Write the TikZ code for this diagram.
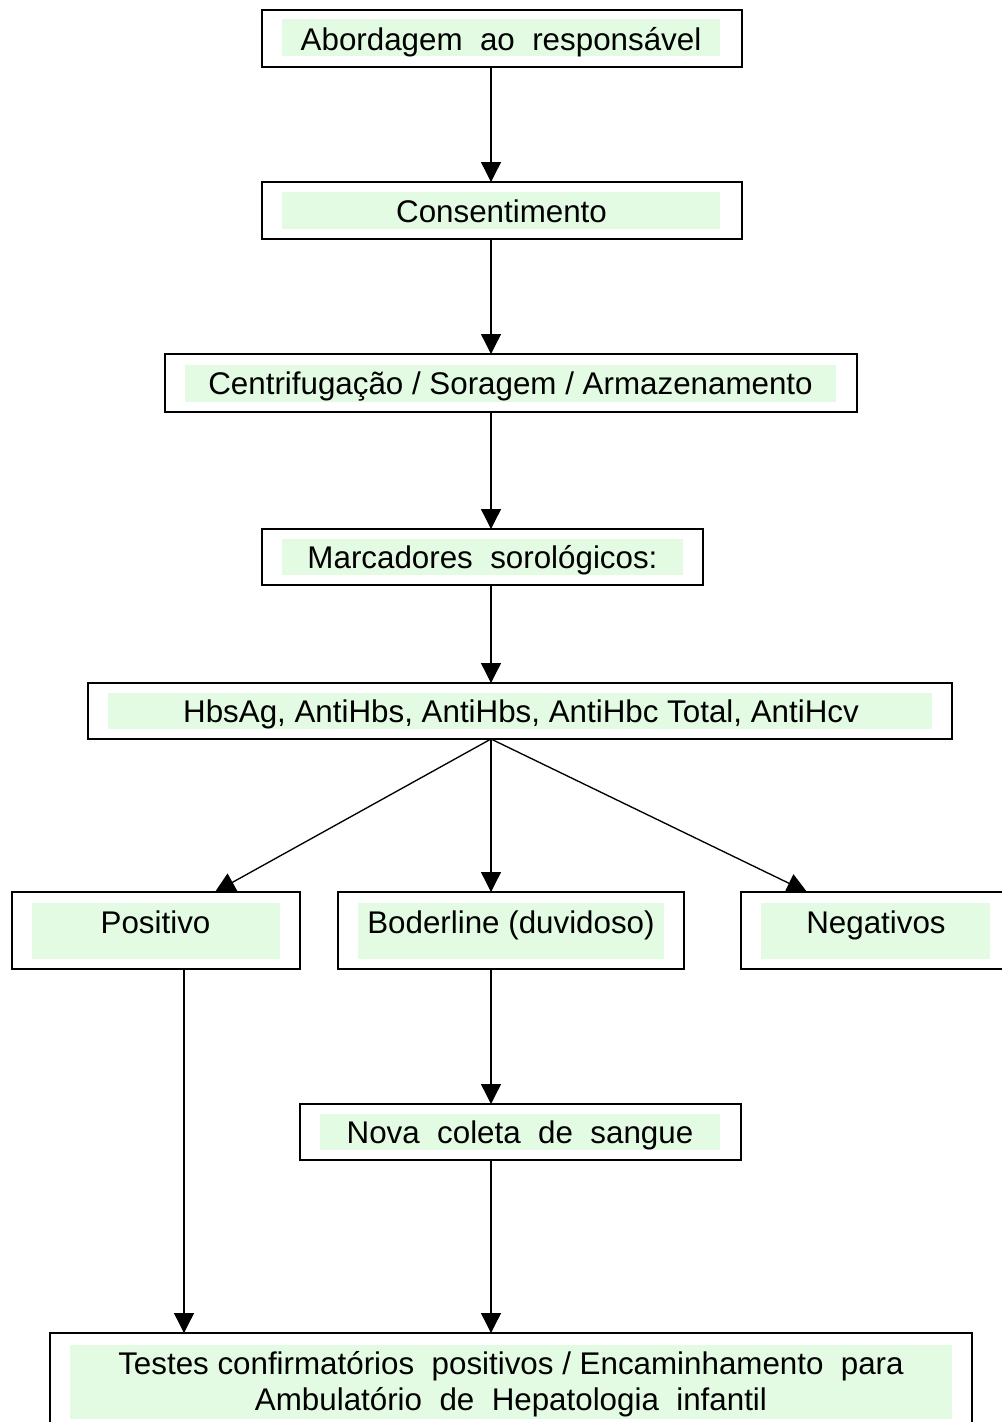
\documentclass[tikz,border=0pt]{standalone}
\usepackage{fontspec}
\setmainfont{Liberation Sans}
\usetikzlibrary{arrows.meta}
\definecolor{boxgreen}{RGB}{227,251,227}
\begin{document}
\begin{tikzpicture}[x=0.75pt,y=-0.75pt,
  outerbox/.style={draw=black,line width=1.3pt,fill=white,inner sep=0pt,outer sep=0pt},
  greenbox/.style={fill=boxgreen,draw=none,inner sep=0pt},
  lbl/.style={anchor=base,inner sep=0pt,font=\fontsize{23.5}{27}\selectfont},
  arr/.style={line width=1pt,-{Triangle[width=15pt,length=15pt]}}]
\clip (0,0) rectangle (1002,1422);
\fill[white] (0,0) rectangle (1002,1422);
% coordinates for connector x positions
\coordinate (ax) at (491,0);
\coordinate (px) at (184,0);
\coordinate (pt) at (215,0);
\coordinate (nt) at (807,0);
% box 1
\node[outerbox,minimum width=360pt,minimum height=42.75pt] (b1) at (502,38.5) {};
\node[greenbox,minimum width=328.5pt,minimum height=27.75pt] (g1) at (501,37.5) {};
\node[lbl] (t1) at (501,50) {Abordagem\ \ ao\ \ responsável};
% box 2
\node[outerbox,minimum width=360pt,minimum height=42.75pt] (b2) at (502,210.5) {};
\node[greenbox,minimum width=328.5pt,minimum height=27.75pt] (g2) at (501,210.5) {};
\node[lbl] (t2) at (501.5,222) {Consentimento};
% box 3
\node[outerbox,minimum width=519pt,minimum height=43.5pt] (b3) at (511,383) {};
\node[greenbox,minimum width=488.25pt,minimum height=27.75pt] (g3) at (510.5,383.5) {};
\node[lbl] (t3) at (510.5,394.5) {Centrifugação / Soragem / Armazenamento};
% box 4
\node[outerbox,minimum width=330.75pt,minimum height=42pt] (b4) at (482.5,557) {};
\node[greenbox,minimum width=300.75pt,minimum height=27pt] (g4) at (482.5,557) {};
\node[lbl] (t4) at (482.5,568.5) {Marcadores\ \ sorológicos:};
% box 5
\node[outerbox,minimum width=648pt,minimum height=42pt] (b5) at (520,711) {};
\node[greenbox,minimum width=618pt,minimum height=27pt] (g5) at (520,711) {};
\node[lbl] (t5) at (521,722.5) {HbsAg, AntiHbs, AntiHbs, AntiHbc Total, AntiHcv};
% box 6
\node[outerbox,minimum width=216pt,minimum height=57.75pt] (b6) at (156,930.5) {};
\node[greenbox,minimum width=186pt,minimum height=42pt] (g6) at (156,931) {};
\node[lbl] (t6) at (155.5,933) {Positivo};
% box 7
\node[outerbox,minimum width=259.5pt,minimum height=57.75pt] (b7) at (511,930.5) {};
\node[greenbox,minimum width=229.5pt,minimum height=42pt] (g7) at (511,931) {};
\node[lbl] (t7) at (511,933) {Boderline (duvidoso)};
% box 8
\node[outerbox,minimum width=201.75pt,minimum height=57.75pt] (b8) at (875.5,930.5) {};
\node[greenbox,minimum width=171.75pt,minimum height=42pt] (g8) at (875.5,931) {};
\node[lbl] (t8) at (876,933) {Negativos};
% box 9
\node[outerbox,minimum width=330.75pt,minimum height=42pt] (b9) at (520.5,1132) {};
\node[greenbox,minimum width=300pt,minimum height=27pt] (g9) at (520,1132) {};
\node[lbl] (t9) at (520,1143.5) {Nova\ \ coleta\ \ de\ \ sangue};
% box 10
\node[outerbox,minimum width=691.5pt,minimum height=90pt] (b10) at (511,1393) {};
\node[greenbox,minimum width=661.5pt,minimum height=55.5pt] (g10) at (511,1382) {};
\node[lbl] (t10a) at (511,1374) {Testes confirmatórios\ \ positivos / Encaminhamento\ \ para};
\node[lbl] (t10b) at (511,1410) {Ambulatório\ \ de\ \ Hepatologia\ \ infantil};
% connectors
\draw[arr] (b1.south -| ax) -- (b2.north -| ax);
\draw[arr] (b2.south -| ax) -- (b3.north -| ax);
\draw[arr] (b3.south -| ax) -- (b4.north -| ax);
\draw[arr] (b4.south -| ax) -- (b5.north -| ax);
\draw[arr] (b5.south -| ax) -- (b6.north -| pt);
\draw[arr] (b5.south -| ax) -- (b7.north -| ax);
\draw[arr] (b5.south -| ax) -- (b8.north -| nt);
\draw[arr] (b6.south -| px) -- (b10.north -| px);
\draw[arr] (b7.south -| ax) -- (b9.north -| ax);
\draw[arr] (b9.south -| ax) -- (b10.north -| ax);
\end{tikzpicture}
\end{document}
